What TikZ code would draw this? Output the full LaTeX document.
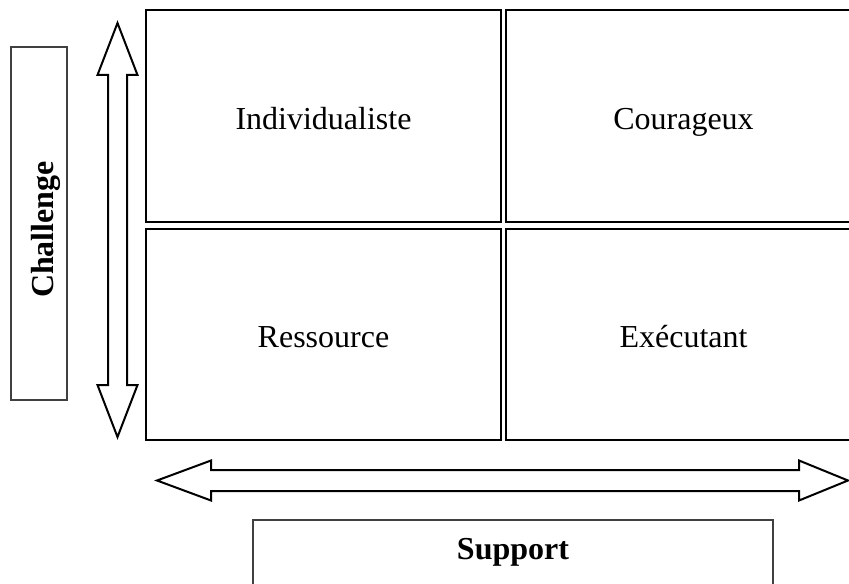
\documentclass[tikz,border=0pt]{standalone}
\usepackage{fontspec}
\setmainfont{Liberation Serif}
\usetikzlibrary{positioning}

\tikzset{
	cell/.style = {draw, line width=1.1pt, minimum width=177.5pt, minimum height=106pt,
		text height=15pt, text depth=2pt, font=\fontsize{16}{19}\selectfont},
	labelbox/.style = {draw=black!75, line width=0.55pt},
	bigarrow/.style = {draw, line width=1pt, line join=miter, fill=white}
}

\begin{document}
\begin{tikzpicture}[x=0.5pt, y=-0.5pt]
	\useasboundingbox (0,0) rectangle (849,583);
	\clip (0,0) rectangle (849,583);

	% the four quadrants
	\node[cell] (indiv) at (323.5,116) {Individualiste};
	\node[cell] (courage) at (683.5,116) {Courageux};
	\node[cell, minimum height=105.5pt] (ressource) at (323.5,334.5) {Ressource};
	\node[cell, minimum height=105.5pt] (executant) at (683.5,334.5) {Exécutant};

	% vertical axis
	\draw[bigarrow] (117.5,23) -- (137.5,75) -- (127,75) -- (127,385) -- (137.5,385)
		-- (117.5,437) -- (97.5,385) -- (108,385) -- (108,75) -- (97.5,75) -- cycle;
	\node[labelbox, rotate=90, minimum width=176.5pt, minimum height=28pt,
		text height=16pt, text depth=2pt,
		font=\fontsize{16}{19}\selectfont\bfseries] (challenge) at (39,223.5) {Challenge\kern6pt\null};

	% horizontal axis
	\draw[bigarrow] (157,480.5) -- (211,460.5) -- (211,470) -- (799,470) -- (799,460.5)
		-- (848,480.5) -- (799,500.5) -- (799,491) -- (211,491) -- (211,500.5) -- cycle;
	\node[font=\fontsize{16}{19}\selectfont\bfseries] (support) at (513,552) {Support};
	\draw[labelbox] (253,600) |- (773,520) -- (773,600);
\end{tikzpicture}
\end{document}
